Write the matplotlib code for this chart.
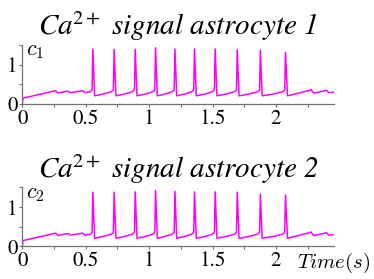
import numpy as np
import matplotlib.pyplot as plt

plt.rcParams['font.family'] = ['STIXGeneral', 'DejaVu Serif']
plt.rcParams['mathtext.fontset'] = 'cm'

# Time samples (s)
time = [0.000, 0.005, 0.250, 0.262, 0.280, 0.360, 0.380, 0.460, 0.475, 0.495,
        0.535, 0.550, 0.556, 0.570,
        0.630, 0.700, 0.718, 0.724, 0.738,
        0.800, 0.866, 0.884, 0.890, 0.904,
        0.965, 1.026, 1.044, 1.050, 1.064,
        1.120, 1.179, 1.197, 1.203, 1.217,
        1.275, 1.333, 1.351, 1.357, 1.371,
        1.435, 1.496, 1.514, 1.520, 1.534,
        1.600, 1.670, 1.688, 1.694, 1.708,
        1.780, 1.852, 1.870, 1.876, 1.890,
        1.970, 2.050, 2.068, 2.074, 2.090,
        2.180, 2.265, 2.275, 2.295, 2.330, 2.385, 2.398, 2.415, 2.440, 2.455]

# Ca2+ concentration, astrocyte 1
c1 = [0.00, 0.15, 0.33, 0.34, 0.28, 0.33, 0.29, 0.33, 0.34, 0.29,
      0.31, 0.36, 1.40, 0.21,
      0.25, 0.31, 0.36, 1.39, 0.21,
      0.25, 0.31, 0.36, 1.39, 0.21,
      0.25, 0.31, 0.36, 1.43, 0.21,
      0.25, 0.31, 0.36, 1.40, 0.21,
      0.25, 0.31, 0.36, 1.40, 0.21,
      0.25, 0.31, 0.36, 1.40, 0.21,
      0.25, 0.31, 0.36, 1.38, 0.21,
      0.25, 0.31, 0.36, 1.37, 0.21,
      0.25, 0.31, 0.36, 1.31, 0.21,
      0.28, 0.35, 0.37, 0.28, 0.30, 0.34, 0.35, 0.29, 0.30, 0.30]

# Ca2+ concentration, astrocyte 2
c2 = [0.00, 0.15, 0.33, 0.34, 0.28, 0.33, 0.29, 0.33, 0.34, 0.29,
      0.31, 0.36, 1.38, 0.21,
      0.25, 0.31, 0.36, 1.38, 0.21,
      0.25, 0.31, 0.36, 1.39, 0.21,
      0.25, 0.31, 0.36, 1.42, 0.21,
      0.25, 0.31, 0.36, 1.40, 0.21,
      0.25, 0.31, 0.36, 1.39, 0.21,
      0.25, 0.31, 0.36, 1.39, 0.21,
      0.25, 0.31, 0.36, 1.38, 0.21,
      0.25, 0.31, 0.36, 1.33, 0.21,
      0.25, 0.31, 0.36, 1.31, 0.21,
      0.28, 0.35, 0.37, 0.28, 0.30, 0.34, 0.35, 0.29, 0.30, 0.30]

xticks = [0, 0.25, 0.5, 0.75, 1, 1.25, 1.5, 1.75, 2, 2.25]
xticklabels = ['0', '', '0.5', '', '1', '', '1.5', '', '2', '']
yticks = [0, 0.5, 1, 1.5]
yticklabels = ['0', '', '1', '']

fig = plt.figure(figsize=(3.74, 2.79), dpi=100)
ax1 = fig.add_axes([0.0596, 0.627, 0.833, 0.2115])
ax2 = fig.add_axes([0.0596, 0.1165, 0.833, 0.2115])

for ax, c, name, num in [(ax1, c1, r'$c_1$', '1'), (ax2, c2, r'$c_2$', '2')]:
    ax.plot(time, c, color='#ff00ff', lw=1.1)
    ax.set_xlim(0, 2.455)
    ax.set_ylim(0, 1.5)
    ax.set_xticks(xticks)
    ax.set_xticklabels(xticklabels)
    ax.set_yticks(yticks)
    ax.set_yticklabels(yticklabels)
    for s in ['top', 'right']:
        ax.spines[s].set_visible(False)
    for s in ['left', 'bottom']:
        ax.spines[s].set_color('#707070')
        ax.spines[s].set_linewidth(0.9)
    ax.tick_params(length=2.5, width=0.8, color='#707070', labelsize=15, pad=1)
    ax.set_title('Ca$^{2+}$ signal astrocyte ' + num, fontsize=21, style='italic',
                 math_fontfamily='stix', pad=7)
    ax.text(0.012, 1.06, name, transform=ax.transAxes, fontsize=16, va='top')

fig.text(0.99, 0.038, r'$Time(s)$', fontsize=15, ha='right', va='baseline')

fig.savefig('out.png', dpi=100)
